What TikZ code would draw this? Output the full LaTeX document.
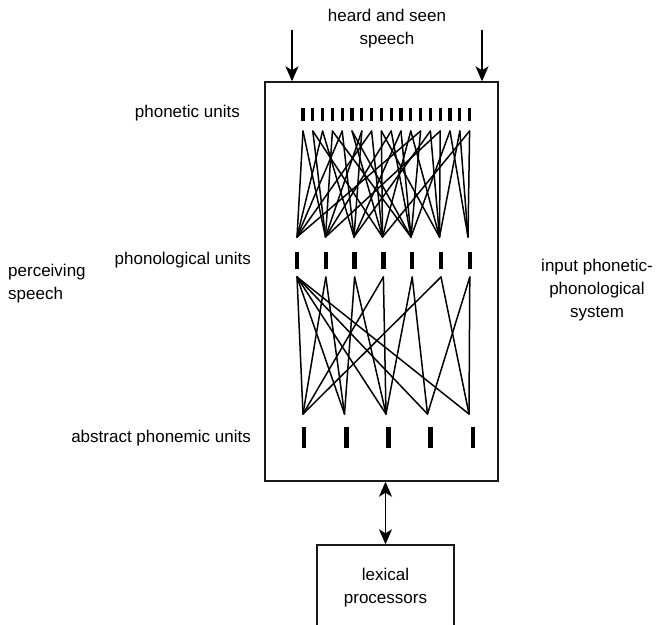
\documentclass[tikz,border=0pt]{standalone}
\usepackage{fontspec}
\setmainfont{Liberation Sans}
\usetikzlibrary{arrows.meta}
\begin{document}
\begin{tikzpicture}[x=1pt,y=-1pt,
  lbl/.style={font=\fontsize{17}{23}\selectfont, inner sep=0pt, align=center},
  frame/.style={draw=black!90, line width=1.4pt, inner sep=0pt},
  thinbar/.style={fill=black, inner sep=0pt, minimum width=3.2pt, minimum height=13pt},
  thickbar/.style={fill=black, inner sep=0pt, minimum width=4.4pt, minimum height=17pt},
  absbar/.style={fill=black, inner sep=0pt, minimum width=4.6pt, minimum height=21pt},
  link/.style={line width=1.5pt, line join=round, line cap=round},
  head/.style={Stealth[length=15pt,width=13pt,inset=4pt]},
  flow/.style={line width=1.4pt, -{Stealth[length=15pt,width=13pt,inset=4pt]}},
  both/.style={line width=1.4pt, {Stealth[length=15pt,width=13pt,inset=4pt]}-{Stealth[length=15pt,width=13pt,inset=4pt]}}]
\useasboundingbox (0,0) rectangle (666,624);

% system box and lexical box
\node[frame, minimum width=233pt, minimum height=399pt] (sys) at (381.5,281.5) {};
\node[frame, lbl, minimum width=137pt, minimum height=85pt] (lex) at (385.5,587.5) {lexical\\processors};

% input arrows
\node[lbl] (heard) at (387,29) {heard and seen\\speech};
\coordinate (inL) at (292,30);
\coordinate (inR) at (482,30);
\draw[flow] (inL) -- (inL |- sys.north);
\draw[flow] (inR) -- (inR |- sys.north);
\draw[both] (lex.north |- sys.south) -- (lex.north);

% side labels
\node[lbl, anchor=east] (lphonetic) at (240,113) {phonetic units};
\node[lbl, anchor=east] (lphonol) at (251,260) {phonological units};
\node[lbl, anchor=east] (labstract) at (251,438) {abstract phonemic units};
\node[lbl, align=left, anchor=west] (perc) at (8,284) {perceiving\\speech};
\node[lbl] (ipps) at (597,290) {input phonetic-\\phonological\\system};

% unit bars and line end points
\foreach \i in {1,...,18} {
  \node[thinbar] (pt\i) at ({303+(\i-1)*9.8},114) {};
  \coordinate (ta\i) at ({303+(\i-1)*9.8},131);
}
\foreach \i in {1,...,7} {
  \node[thickbar] (pl\i) at ({297+(\i-1)*28.8},260) {};
  \coordinate (pb\i) at ({297+(\i-1)*28.5},237);
  \coordinate (pc\i) at ({297+(\i-1)*28.8},277);
}
\foreach \i in {1,...,5} {
  \node[absbar] (ab\i) at ({304+(\i-1)*42.25},437.5) {};
  \coordinate (ad\i) at ({303+(\i-1)*41.5},414);
}

% phonetic -> phonological connections
\foreach \a/\b in {1/1,1/2,2/2,2/4,3/1,3/3,4/2,4/5,5/1,5/3,6/4,6/5,7/3,7/2,
                   8/4,8/1,9/4,9/6,10/2,10/5,11/5,11/3,12/4,12/6,13/5,13/1,
                   14/6,14/3,15/6,15/2,16/5,16/7,17/7,17/6,18/7,18/4}
  \draw[link] (ta\a) -- (pb\b);

% phonological -> abstract phonemic connections
\foreach \a/\b in {1/1,1/2,1/3,1/4,1/5,2/1,2/2,3/2,3/3,4/1,4/3,5/3,5/4,6/1,6/5,7/4,7/5}
  \draw[link] (pc\a) -- (ad\b);
\end{tikzpicture}
\end{document}
